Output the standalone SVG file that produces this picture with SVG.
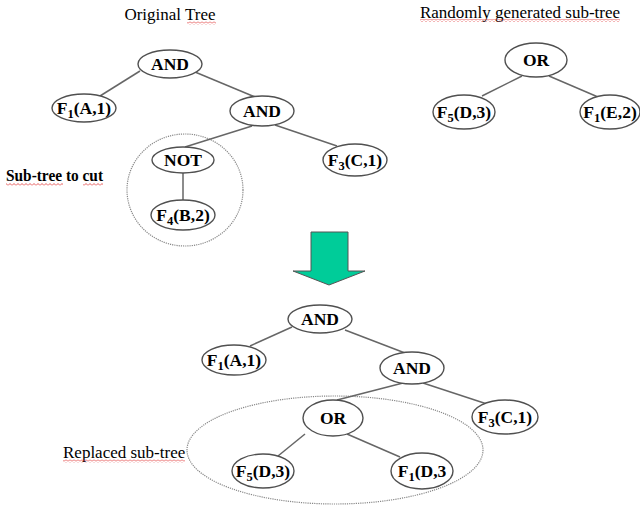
<svg xmlns="http://www.w3.org/2000/svg" width="640" height="505" viewBox="0 0 640 505">
<defs>
<pattern id="wave" x="0" y="0" width="4" height="3" patternUnits="userSpaceOnUse">
<polyline points="0,2.5 2,0.5 4,2.5" fill="none" stroke="#e03030" stroke-width="0.8"/>
</pattern>
<style>
.node ellipse{fill:#fff;stroke:#505050;stroke-width:1.4}
.node text{font-family:"Liberation Serif","Times New Roman",serif;font-weight:bold;font-size:17.5px;text-anchor:middle;fill:#000}
.sub{font-size:12.5px}
.conn line{stroke:#666;stroke-width:1.5}
.lbl{font-family:"Liberation Serif","Times New Roman",serif;font-size:17px;fill:#000}
.dot{fill:none;stroke:#888;stroke-width:1.2;stroke-dasharray:1.2 1}
</style>
</defs>
<rect width="640" height="505" fill="#fff"/>

<g id="labels">
<text class="lbl" x="170" y="20" text-anchor="middle">Original Tree</text>
<rect x="187" y="21.5" width="29" height="3" fill="url(#wave)"/>
<text class="lbl" x="520" y="18" text-anchor="middle">Randomly generated sub-tree</text>
<rect x="420" y="19" width="200" height="3" fill="url(#wave)"/>
<text class="lbl" x="6" y="181" font-weight="bold" font-size="15" textLength="97" lengthAdjust="spacingAndGlyphs">Sub-tree to cut</text>
<rect x="6" y="183" width="57" height="3" fill="url(#wave)"/>
<rect x="83" y="183" width="20" height="3" fill="url(#wave)"/>
<text class="lbl" x="63" y="458">Replaced sub-tree</text>
<rect x="63" y="459.5" width="122" height="3" fill="url(#wave)"/>
</g>

<g id="groupings">
<ellipse class="dot" cx="185" cy="190" rx="58" ry="56"/>
<ellipse class="dot" cx="335" cy="450" rx="148" ry="54"/>
</g>

<g id="connectors" class="conn">
<line x1="140" y1="71" x2="100" y2="96"/>
<line x1="195" y1="72" x2="255" y2="97"/>
<line x1="252" y1="126" x2="185" y2="147"/>
<line x1="275" y1="125" x2="337" y2="146"/>
<line x1="183" y1="173" x2="183" y2="200"/>
<line x1="522" y1="76" x2="482" y2="96"/>
<line x1="549" y1="76" x2="598" y2="97"/>
<line x1="292" y1="327" x2="250" y2="346"/>
<line x1="345" y1="330" x2="405" y2="353"/>
<line x1="403" y1="383" x2="337" y2="400"/>
<line x1="423" y1="383" x2="487" y2="404"/>
<line x1="305" y1="434" x2="278" y2="456"/>
<line x1="347" y1="434" x2="400" y2="457"/>
</g>

<g id="arrow">
<polygon points="311,232 348,232 348,271 365,271 329,285 293,271 311,271" fill="#00cc99" stroke="#555" stroke-width="1"/>
</g>

<g id="t_and1" class="node"><ellipse cx="170" cy="64" rx="32" ry="14"/><text x="170" y="70">AND</text></g>
<g id="t_f1a" class="node"><ellipse cx="84" cy="108" rx="32" ry="14"/><text x="84" y="114">F<tspan class="sub" dy="4">1</tspan><tspan dy="-4">(A,1)</tspan></text></g>
<g id="t_and2" class="node"><ellipse cx="262" cy="111" rx="32" ry="15"/><text x="262" y="117">AND</text></g>
<g id="t_not" class="node"><ellipse cx="183" cy="160" rx="31" ry="13"/><text x="183" y="166">NOT</text></g>
<g id="t_f4" class="node"><ellipse cx="183" cy="215" rx="32" ry="15"/><text x="183" y="221">F<tspan class="sub" dy="4">4</tspan><tspan dy="-4">(B,2)</tspan></text></g>
<g id="t_f3" class="node"><ellipse cx="355" cy="160" rx="32" ry="16"/><text x="355" y="166">F<tspan class="sub" dy="4">3</tspan><tspan dy="-4">(C,1)</tspan></text></g>

<g id="r_or" class="node"><ellipse cx="536" cy="60" rx="31" ry="17"/><text x="536" y="66">OR</text></g>
<g id="r_f5" class="node"><ellipse cx="464" cy="112" rx="31" ry="17"/><text x="464" y="118">F<tspan class="sub" dy="4">5</tspan><tspan dy="-4">(D,3)</tspan></text></g>
<g id="r_f1e" class="node"><ellipse cx="610" cy="112" rx="30" ry="17"/><text x="610" y="118">F<tspan class="sub" dy="4">1</tspan><tspan dy="-4">(E,2)</tspan></text></g>

<g id="b_and1" class="node"><ellipse cx="320" cy="319" rx="32" ry="14"/><text x="320" y="325">AND</text></g>
<g id="b_f1a" class="node"><ellipse cx="234" cy="360" rx="32" ry="15"/><text x="234" y="366">F<tspan class="sub" dy="4">1</tspan><tspan dy="-4">(A,1)</tspan></text></g>
<g id="b_and2" class="node"><ellipse cx="412" cy="368" rx="32" ry="16"/><text x="412" y="374">AND</text></g>
<g id="b_or" class="node"><ellipse cx="333" cy="418" rx="30" ry="18"/><text x="333" y="424">OR</text></g>
<g id="b_f5" class="node"><ellipse cx="263" cy="471" rx="31" ry="17"/><text x="263" y="477">F<tspan class="sub" dy="4">5</tspan><tspan dy="-4">(D,3)</tspan></text></g>
<g id="b_f1d" class="node"><ellipse cx="422" cy="471" rx="31" ry="18"/><text x="422" y="477">F<tspan class="sub" dy="4">1</tspan><tspan dy="-4">(D,3</tspan></text></g>
<g id="b_f3" class="node"><ellipse cx="505" cy="417" rx="33" ry="17"/><text x="505" y="423">F<tspan class="sub" dy="4">3</tspan><tspan dy="-4">(C,1)</tspan></text></g>
</svg>
